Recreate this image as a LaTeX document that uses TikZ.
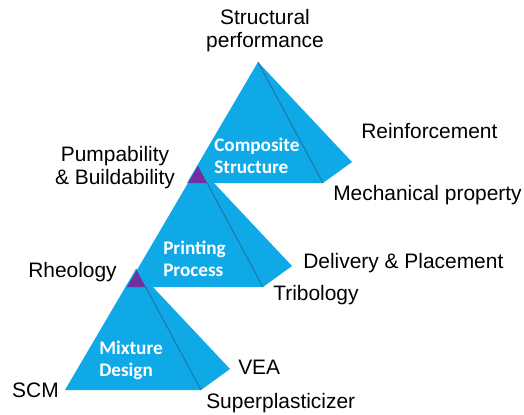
\documentclass[tikz,border=0pt]{standalone}
\usepackage{fontspec}
\setmainfont{Liberation Sans}
\newfontfamily\facefont{Carlito}
\usetikzlibrary{positioning}
\definecolor{pyrblue}{HTML}{0EA9E6}
\definecolor{pyrline}{HTML}{1F6E9C}
\definecolor{pyrtip}{HTML}{7030A0}
\tikzset{
  facet/.style = {fill=pyrblue, draw=none},
  ridge/.style = {draw=pyrline, line width=0.6pt},
  tip/.style   = {fill=pyrtip},
  tag/.style   = {font=\fontsize{15.7}{17.3}\selectfont, inner sep=0pt, align=center},
  stage/.style = {font=\facefont\bfseries\fontsize{14.4}{16.5}\selectfont,
                  text=white, inner sep=0pt, align=left}
}

\begin{document}
\begin{tikzpicture}[x=0.75pt, y=-0.75pt]
  \useasboundingbox (0,0) rectangle (524,414);
  % corners: apex, left, front and right (back) corner
  \foreach \p/\x/\y in {mix/136/269, print/198/166, comp/258/62} {
    \coordinate (\p-a) at (\x,\y);
    \coordinate (\p-l) at (\x-71,\y+121);
    \coordinate (\p-f) at (\x+65,\y+121);
    \coordinate (\p-r) at (\x+94,\y+100);
  }
  \foreach \p in {mix, print, comp} {
    \fill[facet] (\p-l) -- (\p-a) -- (\p-r) -- (\p-f) -- cycle;
    \draw[ridge] (\p-a) -- (\p-f);
  }
  % overlap of each apex with the pyramid above
  \begin{scope}
    \clip (comp-l) -- (comp-a) -- (comp-r) -- (comp-f) -- cycle;
    \fill[tip] (print-a) -- (print-l) -- (print-f) -- cycle;
  \end{scope}
  \begin{scope}
    \clip (print-l) -- (print-a) -- (print-r) -- (print-f) -- cycle;
    \fill[tip] (mix-a) -- (mix-l) -- (mix-f) -- cycle;
  \end{scope}

  \node[stage, anchor=west] (comp) at (214,156) {Composite\\Structure};
  \node[stage, anchor=west] (print) at (163,259) {Printing\\Process};
  \node[stage, anchor=west] (mix) at (99,360) {Mixture\\Design};

  \node[tag] (perf) at (265,31) {Structural\\performance};
  \node[tag, anchor=west] (reinf) at (361,131) {Reinforcement};
  \node[tag] (pump) at (115,168) {Pumpability\\\& Buildability};
  \node[tag, anchor=west] (mech) at (333,195) {Mechanical property};
  \node[tag, anchor=east] (rheo) at (117,272) {Rheology};
  \node[tag, anchor=west] (deliv) at (303,263) {Delivery \& Placement};
  \node[tag, anchor=west] (tribo) at (273,295) {Tribology};
  \node[tag, anchor=west] (vea) at (238,367) {VEA};
  \node[tag, anchor=east] (scm) at (59,390) {SCM};
  \node[tag, anchor=west] (super) at (206,403) {Superplasticizer};
\end{tikzpicture}
\end{document}
